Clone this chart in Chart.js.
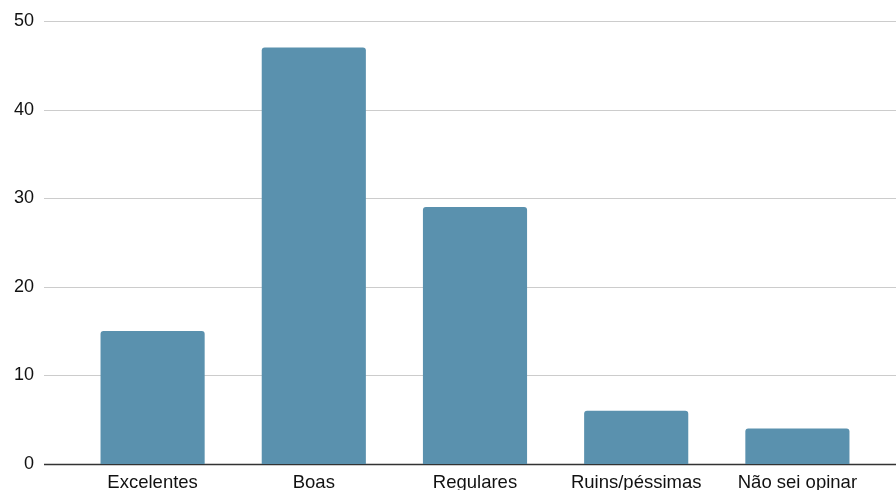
<!DOCTYPE html>
<html>
<head>
<meta charset="utf-8">
<script src="https://cdn.jsdelivr.net/npm/chart.js@4"></script>
<style>
    html, body { margin: 0; padding: 0; background: #ffffff; }
    #wrap { width: 896px; height: 490px; }
</style>
</head>
<body>
<div id="wrap"><canvas id="chart"></canvas></div>
<script>
const categories = ["Excelentes", "Boas", "Regulares", "Ruins/péssimas", "Não sei opinar"];
const values = [15, 47, 29, 6, 4];
const yTicks = [0, 10, 20, 30, 40, 50];

// horizontal grid lines run wider than the category area
const gridPlugin = {
    id: "wideGrid",
    beforeDatasetsDraw(chart) {
        const ctx = chart.ctx;
        const y = chart.scales.y;
        ctx.save();
        yTicks.forEach(v => {
            const py = Math.round(y.getPixelForValue(v)) + 0.5;
            ctx.beginPath();
            ctx.moveTo(44, py);
            ctx.lineTo(chart.width, py);
            ctx.lineWidth = v === 0 ? 1.5 : 1;
            ctx.strokeStyle = v === 0 ? "#333333" : "#cccccc";
            ctx.stroke();
        });
        ctx.restore();
    }
};

new Chart(document.getElementById("chart"), {
    type: "bar",
    data: {
        labels: categories,
        datasets: [{
            data: values,
            backgroundColor: "#5a91ae",
            borderRadius: { topLeft: 3, topRight: 3 },
            borderSkipped: "bottom",
            barPercentage: 0.646,
            categoryPercentage: 1
        }]
    },
    options: {
        responsive: true,
        maintainAspectRatio: false,
        animation: false,
        layout: { padding: { top: 21, right: 18, left: 0, bottom: 0 } },
        plugins: {
            legend: { display: false },
            tooltip: { enabled: false }
        },
        scales: {
            x: {
                grid: { display: false, drawTicks: false },
                border: { display: false },
                ticks: {
                    color: "#111111",
                    padding: 8,
                    maxRotation: 0,
                    autoSkip: false,
                    font: { family: "'Liberation Sans', Arial", size: 18.5 }
                },
                afterFit(scale) { scale.height = 26; }
            },
            y: {
                min: 0,
                max: 50,
                grid: { display: false, drawTicks: true, tickLength: 34 },
                border: { display: false },
                ticks: {
                    stepSize: 10,
                    color: "#111111",
                    padding: 4,
                    font: { family: "'Liberation Sans', Arial", size: 18 }
                },
                afterFit(scale) { scale.width = 72; }
            }
        }
    },
    plugins: [gridPlugin]
});
</script>
</body>
</html>
